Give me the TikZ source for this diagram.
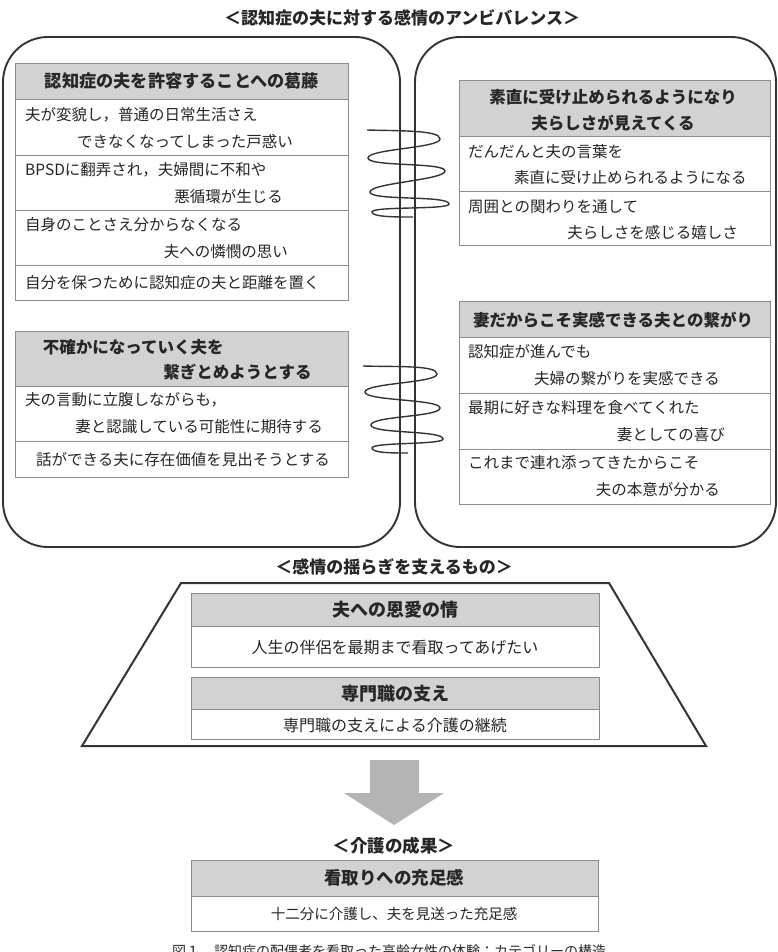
\documentclass[tikz,border=0pt]{standalone}
\usepackage{fontspec}
\setmainfont{Noto Sans CJK JP}
\definecolor{linec}{HTML}{333333}
\definecolor{boxc}{HTML}{8C8C8C}
\definecolor{hdrc}{HTML}{D2D2D2}
\definecolor{txtc}{HTML}{262626}
\definecolor{arrc}{HTML}{B4B4B4}
\newcommand\cbox[6]{\pgfmathsetmacro\cw{#5-#3}\pgfmathsetmacro\ch{#6-#4}%
  \node[#2, anchor=north west, minimum width=\cw pt, minimum height=\ch pt, inner sep=0pt, outer sep=0pt] (#1) at (#3,#4) {};}
\tikzset{
  hdr/.style={draw=boxc, fill=hdrc, line width=0.9pt},
  cell/.style={draw=boxc, fill=white, line width=0.9pt},
  outer/.style={draw=linec, line width=1.9pt, rounded corners=45pt},
  body/.style={inner sep=0pt, text=txtc, font=\fontsize{15.5}{18}\selectfont},
  head/.style={inner sep=0pt, text=txtc, font=\fontsize{16.5}{20}\selectfont\bfseries},
  ttl/.style={inner sep=0pt, text=txtc, font=\fontsize{17}{20}\selectfont\bfseries},
  spring/.style={draw=linec, line width=1.4pt},
  trap/.style={draw=linec, line width=2pt, line join=miter},
}
\begin{document}
\begin{tikzpicture}[x=1pt, y=-1pt]
\useasboundingbox (0,0) rectangle (778,952);
% title
\node[ttl] (t1) at (402,18) {＜認知症の夫に対する感情のアンビバレンス＞};
% outer rounded boxes
\draw[outer] (3,37) rectangle (400,547);
\draw[outer] (415,37) rectangle (776,547);
% left box 1
\cbox{L1h}{hdr}{15.5}{63}{348}{99}
\cbox{L1a}{cell}{15.5}{99}{348}{155}
\cbox{L1b}{cell}{15.5}{155}{348}{210}
\cbox{L1c}{cell}{15.5}{210}{348}{265.5}
\cbox{L1d}{cell}{15.5}{265.5}{348}{300.5}
\node[head, font=\fontsize{17.2}{20}\selectfont\bfseries] (L1ht) at (182,81) {認知症の夫を許容することへの葛藤};
\node[body, anchor=west] (L1a1) at (25,115) {夫が変貌し，普通の日常生活さえ};
\node[body, anchor=east] (L1a2) at (293,142) {できなくなってしまった戸惑い};
\node[body, anchor=west] (L1b1) at (25,170) {BPSDに翻弄され，夫婦間に不和や};
\node[body, anchor=east] (L1b2) at (283,197) {悪循環が生じる};
\node[body, anchor=west] (L1c1) at (25,225) {自身のことさえ分からなくなる};
\node[body, anchor=east] (L1c2) at (288,252) {夫への憐憫の思い};
\node[body, anchor=west] (L1d1) at (25,283) {自分を保つために認知症の夫と距離を置く};
% left box 2
\cbox{L2h}{hdr}{15.5}{331}{348}{386}
\cbox{L2a}{cell}{15.5}{386}{348}{441.7}
\cbox{L2b}{cell}{15.5}{441.7}{348}{477.7}
\node[head, anchor=west] (L2h1) at (42.7,347) {不確かになっていく夫を};
\node[head, anchor=east] (L2h2) at (311.7,372) {繋ぎとめようとする};
\node[body, anchor=west] (L2a1) at (25,400) {夫の言動に立腹しながらも，};
\node[body, anchor=east] (L2a2) at (323,427) {妻と認識している可能性に期待する};
\node[body, anchor=west] (L2b1) at (36,460) {話ができる夫に存在価値を見出そうとする};
% right box 1
\cbox{R1h}{hdr}{459.3}{80.7}{770.7}{136}
\cbox{R1a}{cell}{459.3}{136}{770.7}{191}
\cbox{R1b}{cell}{459.3}{191}{770.7}{245.7}
\node[head] (R1h1) at (613,97) {素直に受け止められるようになり};
\node[head] (R1h2) at (613,123) {夫らしさが見えてくる};
\node[body, anchor=west] (R1a1) at (468,152) {だんだんと夫の言葉を};
\node[body, anchor=east] (R1a2) at (746.7,178) {素直に受け止められるようになる};
\node[body, anchor=west] (R1b1) at (468,207) {周囲との関わりを通して};
\node[body, anchor=east] (R1b2) at (738,233) {夫らしさを感じる嬉しさ};
% right box 2
\cbox{R2h}{hdr}{459.3}{301}{770.7}{337.3}
\cbox{R2a}{cell}{459.3}{337.3}{770.7}{393.3}
\cbox{R2b}{cell}{459.3}{393.3}{770.7}{449}
\cbox{R2c}{cell}{459.3}{449}{770.7}{504.3}
\node[head] (R2ht) at (613,320) {妻だからこそ実感できる夫との繋がり};
\node[body, anchor=west] (R2a1) at (468,352) {認知症が進んでも};
\node[body, anchor=east] (R2a2) at (720,379) {夫婦の繋がりを実感できる};
\node[body, anchor=west] (R2b1) at (468,408) {最期に好きな料理を食べてくれた};
\node[body, anchor=east] (R2b2) at (725,435) {妻としての喜び};
\node[body, anchor=west] (R2c1) at (468,463) {これまで連れ添ってきたからこそ};
\node[body, anchor=east] (R2c2) at (720,490) {夫の本意が分かる};
% springs
\draw[spring] (367,130) .. controls (400,131) and (440,130) .. (440,139)
  .. controls (440,148) and (368,149) .. (368,158)
  .. controls (368,167) and (445,162) .. (445,171)
  .. controls (445,180) and (370,183) .. (370,192)
  .. controls (370,201) and (449,195) .. (449,204)
  .. controls (449,210) and (372,206) .. (372,212)
  .. controls (372,217) and (395,217) .. (413,217);
\draw[spring] (363,366) .. controls (396,367) and (437,365) .. (437,374)
  .. controls (437,383) and (365,383) .. (365,392)
  .. controls (365,401) and (440,399) .. (440,408)
  .. controls (440,417) and (371,416) .. (371,425)
  .. controls (371,434) and (443,430) .. (443,439)
  .. controls (443,445) and (372,442) .. (372,448)
  .. controls (372,453) and (392,453) .. (408,453);
% support section
\node[ttl] (t2) at (394,567) {＜感情の揺らぎを支えるもの＞};
\draw[trap] (181,583) -- (609,583) -- (706,746) -- (82,746) -- cycle;
\cbox{Ah}{hdr}{191}{593}{599}{626}
\cbox{Aa}{cell}{191}{626}{599}{667}
\cbox{Bh}{hdr}{191}{677}{599}{709}
\cbox{Ba}{cell}{191}{709}{599}{739}
\node[head, font=\fontsize{18}{21}\selectfont\bfseries] (Aht) at (395,610) {夫への恩愛の情};
\node[body, font=\fontsize{16}{19}\selectfont] (Aat) at (395,647) {人生の伴侶を最期まで看取ってあげたい};
\node[head, font=\fontsize{18}{21}\selectfont\bfseries] (Bht) at (395,694) {専門職の支え};
\node[body, font=\fontsize{16}{19}\selectfont] (Bat) at (395,725) {専門職の支えによる介護の継続};
% arrow
\fill[arrc] (370,760) -- (419,760) -- (419,793) -- (444,793) -- (394,825) -- (344,793) -- (370,793) -- cycle;
% outcome
\node[ttl, font=\fontsize{17.5}{20}\selectfont\bfseries] (t3) at (394,846) {＜介護の成果＞};
\cbox{Ch}{hdr}{191}{860}{598}{896}
\cbox{Ca}{cell}{191}{896}{598}{931}
\node[head, font=\fontsize{17.5}{20}\selectfont\bfseries] (Cht) at (394,878) {看取りへの充足感};
\node[body, font=\fontsize{14.5}{17}\selectfont] (Cat) at (394,914) {十二分に介護し、夫を見送った充足感};
% caption (cut by page edge, as in the reference)
\node[body, font=\fontsize{14}{16}\selectfont, anchor=west] (cap) at (172,951) {図１　認知症の配偶者を看取った高齢女性の体験：カテゴリーの構造};
\end{tikzpicture}
\end{document}
